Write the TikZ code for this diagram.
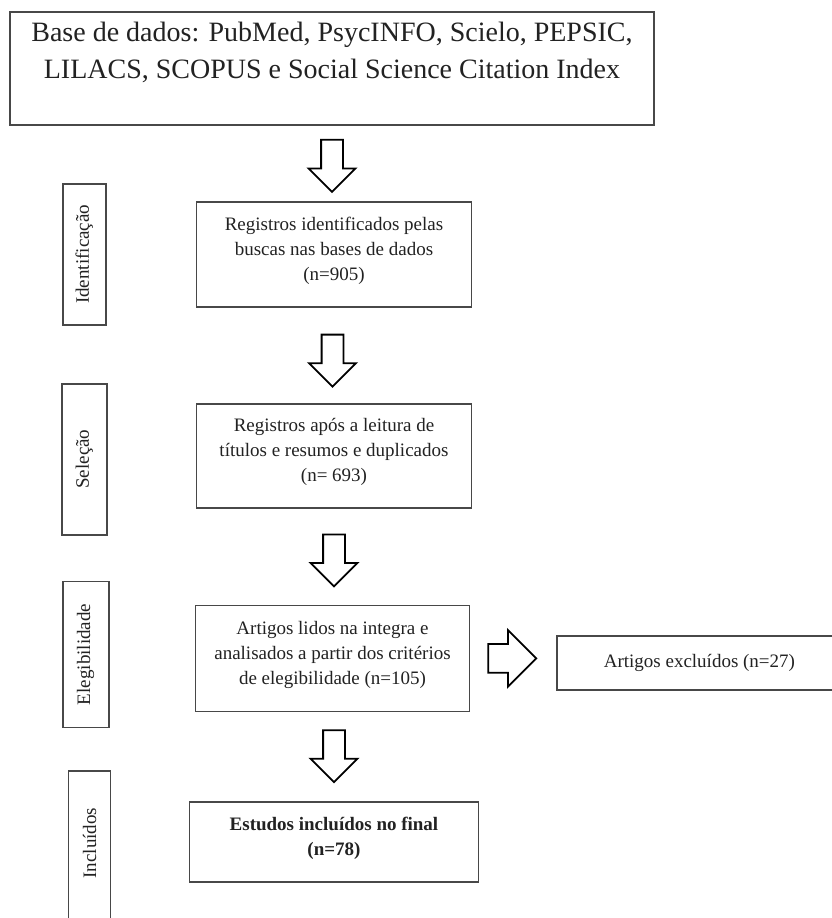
\documentclass[tikz,border=0pt]{standalone}
\usepackage{fontspec}
\setmainfont[Ligatures=NoCommon]{Liberation Serif}
\usepackage{tikz}
\usetikzlibrary{shapes.arrows, positioning, calc}
\definecolor{boxgray}{HTML}{484848}
\definecolor{textgray}{HTML}{222222}

\begin{document}
\begin{tikzpicture}[x=1pt, y=-1pt,
  stagebox/.style={rectangle, draw=boxgray, line width=1.8pt, minimum width=275pt, minimum height=105pt, align=center, text=textgray, font=\fontsize{19}{25}\selectfont, text depth=11pt, inner sep=2pt},
  sidebox/.style={rectangle, draw=boxgray, line width=1.8pt, minimum width=43pt, inner sep=0pt},
  sidetext/.style={rotate=90, text=textgray, font=\fontsize{19}{22}\selectfont},
  downarrow/.style={single arrow, draw=black, line width=1.8pt, fill=white, rotate=-90, anchor=tail, minimum height=52pt, text height=20pt, text depth=0pt, single arrow head extend=12.5pt, inner sep=0pt},
  rightarrow/.style={single arrow, draw=black, line width=1.8pt, fill=white, anchor=tail, minimum height=48pt, text height=27pt, text depth=0pt, single arrow head extend=14pt, inner sep=0pt}
]
  \useasboundingbox (0,0) rectangle (831,918);
  \fill[white] (0,0) rectangle (831,918);

  % main column
  \node[stagebox, minimum width=644pt, minimum height=113pt, text depth=0pt, font=\fontsize{28}{37}\selectfont] (dbs) at (332,68.5) {Base de dados: PubMed, PsycINFO, Scielo, PEPSIC,\\LILACS, SCOPUS e Social Science Citation Index\\\mbox{}};
  \node[stagebox, below=75pt of dbs.south, anchor=north, xshift=2pt] (reg) {Registros identificados pelas\\buscas nas bases de dados\\(n=905)};
  \node[stagebox, below=95pt of reg.south, anchor=north, minimum height=104pt] (sel) {Registros após a leitura de\\títulos e resumos e duplicados\\(n= 693)};
  \node[stagebox, below=96pt of sel.south, anchor=north, xshift=-1.5pt, minimum width=274pt, minimum height=106pt] (art) {Artigos lidos na integra e\\analisados a partir dos critérios\\de elegibilidade (n=105)};
  \node[stagebox, below=89pt of art.south, anchor=north, xshift=1.5pt, minimum width=289pt, minimum height=80pt, font=\fontsize{19}{25}\selectfont\bfseries] (est) {Estudos incluídos no final\\(n=78)};
  \node[stagebox, minimum width=285pt, minimum height=54pt, text depth=4pt, anchor=west] (exc) at (556,663) {Artigos excluídos (n=27)};

  % phase labels
  \node[sidebox, minimum height=141pt, left=89pt of reg] (ident) {};
  \node[sidetext] at (ident) {Identificação};
  \node[sidebox, minimum height=151pt, minimum width=45pt, left=88pt of sel, yshift=-3.5pt] (selec) {};
  \node[sidetext] at (selec) {Seleção};
  \node[sidebox, minimum height=146pt, minimum width=46pt, left=85pt of art, yshift=4pt] (eleg) {};
  \node[sidetext] at (eleg) {Elegibilidade};
  \node[sidebox, minimum height=170pt, minimum width=42pt, anchor=north] (incl) at (89.5,770) {};
  \node[sidetext] at (89.5,843) {Incluídos};

  % block arrows
  \node[downarrow] (a1) at ($(dbs.south)+(0,13)$) {};
  \node[downarrow] (a2) at ($(reg.south)+(-1.5,26)$) {};
  \node[downarrow] (a3) at ($(sel.south)+(0,25)$) {};
  \node[downarrow] (a4) at ($(art.south)+(1.5,17)$) {};
  \node[rightarrow] (a5) at ($(art.east)+(17,0)$) {};
\end{tikzpicture}
\end{document}
